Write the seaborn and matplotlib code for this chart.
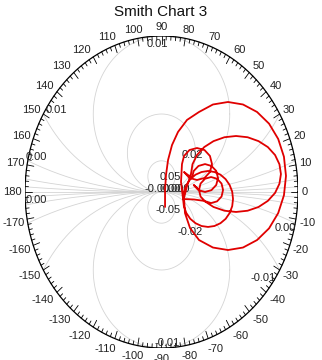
import numpy as np
import pandas as pd
import matplotlib
matplotlib.use("Agg")
import matplotlib.pyplot as plt
import seaborn as sns

title = "Smith Chart 3"

gamma_re = [0.026, 0.026, 0.033, 0.048, 0.077, 0.121, 0.187, 0.275, 0.377, 0.487,
            0.597, 0.700, 0.788, 0.855, 0.897, 0.912, 0.897, 0.855, 0.788, 0.700,
            0.597, 0.487, 0.377, 0.275, 0.209, 0.172, 0.165,
            0.187, 0.216, 0.227, 0.260, 0.313, 0.381, 0.461, 0.546, 0.631, 0.711,
            0.779, 0.832, 0.864, 0.875, 0.864, 0.832, 0.779, 0.711, 0.631, 0.546,
            0.461, 0.381, 0.313, 0.238,
            0.158, 0.164, 0.182, 0.211, 0.249, 0.293, 0.341, 0.388, 0.432, 0.470,
            0.499, 0.518, 0.524, 0.518, 0.499, 0.470, 0.432, 0.388, 0.341, 0.293,
            0.249, 0.211, 0.182, 0.164, 0.158,
            0.143,
            0.150, 0.165, 0.205, 0.260, 0.315, 0.355, 0.370, 0.355, 0.315, 0.260,
            0.205, 0.165,
            0.223, 0.236, 0.271, 0.319, 0.366, 0.401, 0.414, 0.401, 0.366, 0.319,
            0.271, 0.236,
            0.275, 0.286, 0.319, 0.363, 0.407, 0.440, 0.451, 0.440, 0.407, 0.363,
            0.319, 0.286, 0.275]
gamma_im = [-0.096, 0.013, 0.109, 0.205, 0.301, 0.385, 0.462, 0.513, 0.561, 0.577,
            0.561, 0.513, 0.438, 0.340, 0.226, 0.103, -0.021, -0.135, -0.233, -0.308,
            -0.356, -0.372, -0.356, -0.308, -0.231, -0.135, -0.038,
            0.038, 0.115, 0.178, 0.237, 0.288, 0.326, 0.351, 0.359, 0.351, 0.326,
            0.288, 0.237, 0.178, 0.115, 0.053, -0.006, -0.057, -0.096, -0.120, -0.128,
            -0.120, -0.096, -0.057, -0.048,
            -0.045, 0.002, 0.045, 0.082, 0.111, 0.128, 0.135, 0.128, 0.111, 0.082,
            0.045, 0.002, -0.045, -0.091, -0.135, -0.172, -0.200, -0.218, -0.224, -0.218,
            -0.200, -0.172, -0.135, -0.091, -0.045,
            0.064,
            0.179, 0.231, 0.269, 0.282, 0.269, 0.231, 0.179, 0.128, 0.090, 0.077,
            0.090, 0.128,
            0.090, 0.135, 0.167, 0.179, 0.167, 0.135, 0.090, 0.045, 0.012, 0.0,
            0.012, 0.045,
            0.013, 0.054, 0.085, 0.096, 0.085, 0.054, 0.013, -0.029, -0.060, -0.071,
            -0.060, -0.029, 0.013]

# grid circles (tangent to the horizontal axis at the centre)
grid_radii = [0.1, 0.25, 0.5, 1.0, 2.5, 6.0, 15.0]

angle_labels = list(range(-170, 181, 10))

grid_label_text = ["0.01", "0.01", "0.00", "0.00", "0.00", "-0.01", "-0.01",
                   "0.02", "0.05", "-0.05", "-0.02", "-0.00", "0.00", "0.000"]
grid_label_u = [-0.033, -0.773, -0.919, -0.919, 0.905, 0.744, 0.040,
                0.223, 0.062, 0.048, 0.209, -0.033, 0.062, 0.106]
grid_label_v = [0.949, 0.526, 0.224, -0.051, -0.231, -0.551, -0.968,
                0.237, 0.096, -0.115, -0.256, 0.019, 0.019, 0.019]

sns.set_theme(style="white")
plt.rcParams['font.family'] = ['Liberation Sans', 'DejaVu Sans']

fig = plt.figure(figsize=(3.22, 3.6), dpi=100)
fig.patch.set_facecolor("white")
ax = fig.add_axes([25 / 322, 12 / 360, 273 / 322, 312 / 360])
ax.set_xlim(-1, 1)
ax.set_ylim(-1, 1)
ax.axis("off")

grid_col = "#d4d4d4"
t = np.linspace(0, 2 * np.pi, 40001)
for a in grid_radii:
    for s in (1, -1):
        x = a * np.cos(t)
        y = s * (a + a * np.sin(t))
        m = x ** 2 + y ** 2 > 1.0
        x = np.where(m, np.nan, x)
        y = np.where(m, np.nan, y)
        ax.plot(x, y, color=grid_col, lw=0.6, zorder=1)
ax.plot([-1, 1], [0, 0], color=grid_col, lw=0.6, zorder=1)

# outer ring
ax.plot(np.cos(t), np.sin(t), color="black", lw=0.9, zorder=3)
for deg in range(0, 360, 2):
    L = 0.05 if deg % 10 == 0 else 0.025
    c, s_ = np.cos(np.radians(deg)), np.sin(np.radians(deg))
    ax.plot([c, (1 - L) * c], [s_, (1 - L) * s_], color="black", lw=0.6, zorder=3)

for deg in angle_labels:
    txt = str(deg)
    c, s_ = np.cos(np.radians(deg)), np.sin(np.radians(deg))
    w = 5.4 * len(txt.replace("-", "")) + (3.5 if deg < 0 else 0)
    ox = (4 + w / 2) * np.clip(2 * c, -1, 1)
    oy = 8.5 * s_ - (2 if deg < 0 else 0)
    ax.annotate(txt, xy=(c, s_), xytext=(ox, oy), textcoords="offset pixels",
                ha="center", va="center", fontsize=8, color="#222222")

for txt, u, v in zip(grid_label_text, grid_label_u, grid_label_v):
    ax.text(u, v, txt, ha="center", va="center", fontsize=8, color="#222222", zorder=4)

df = pd.DataFrame({"re": gamma_re, "im": gamma_im})
sns.lineplot(data=df, x="re", y="im", sort=False, estimator=None, color="#e00000",
             lw=1.3, ax=ax, zorder=5)
ax.set_xlim(-1, 1)
ax.set_ylim(-1, 1)

fig.text(0.5, 1 - 12 / 360, title, ha="center", va="center", fontsize=11, color="#111111")

fig.savefig("out.png", dpi=100)
